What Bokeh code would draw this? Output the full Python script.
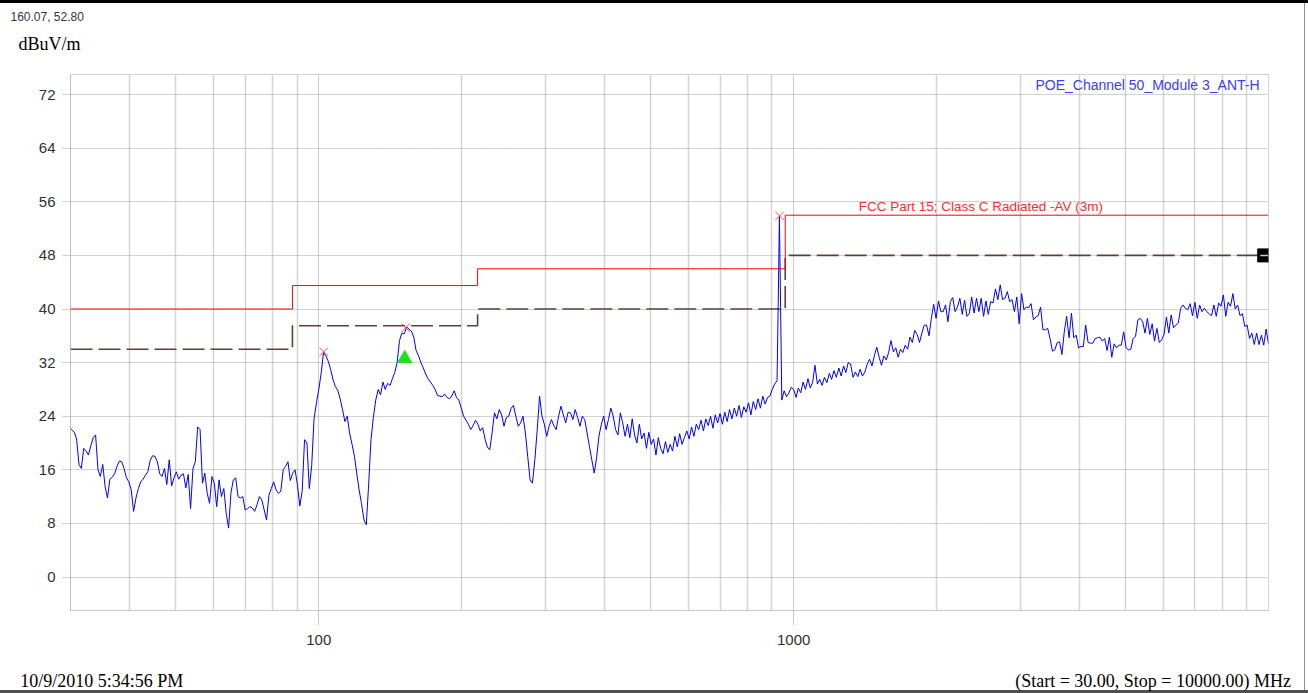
from bokeh.plotting import figure
from bokeh.models import Label, Title, FixedTicker, BasicTickFormatter, LogAxis
from bokeh.embed import file_html
from bokeh.resources import INLINE

# ---------------- data ----------------
freq_low = [30.0,
    30.2, 30.55, 30.9, 31.26, 31.62, 31.99, 32.36, 32.73, 33.11, 33.5,
    33.88, 34.28, 34.67, 35.08, 35.48, 35.89, 36.31, 36.73, 37.15, 37.58,
    38.02, 38.46, 38.9, 39.36, 39.81, 40.27, 40.74, 41.21, 41.69, 42.17,
    42.66, 43.15, 43.65, 44.16, 44.67, 45.19, 45.71, 46.24, 46.77, 47.32,
    47.86, 48.42, 48.98, 49.55, 50.12, 50.7, 51.29, 51.88, 52.48, 53.09,
    53.7, 54.33, 54.95, 55.59, 56.23, 56.89, 57.54, 58.21, 58.88, 59.57,
    60.26, 60.95, 61.66, 62.37, 63.1, 63.83, 64.57, 65.31, 66.07, 66.83,
    67.61, 68.39, 69.18, 69.98, 70.79, 71.61, 72.44, 73.28, 74.13, 74.99,
    75.86, 76.74, 77.62, 78.52, 79.43, 80.35, 81.28, 82.22, 83.18, 84.14,
    85.11, 86.1, 87.1, 88.1, 89.13, 90.16, 91.2, 92.26, 93.33, 94.41,
    95.5, 96.61, 97.72, 98.86]
level_low = [22.2,
    22.0, 21.6, 20.6, 16.8, 16.2, 19.2, 18.8, 18.2, 19.6, 20.8,
    21.2, 16.0, 15.0, 16.8, 13.5, 11.8, 14.6, 14.9, 15.4, 16.5,
    17.3, 17.2, 16.2, 14.8, 14.2, 13.0, 9.8, 11.8, 13.2, 14.2,
    14.6, 15.2, 15.7, 17.4, 18.1, 18.0, 17.2, 15.4, 15.0, 16.2,
    13.8, 17.5, 13.6, 14.8, 15.7, 14.6, 15.2, 15.4, 13.3, 15.3,
    10.2, 16.2, 17.2, 22.4, 22.0, 14.0, 15.5, 12.5, 11.0, 15.0,
    14.0, 10.5, 14.5, 12.0, 13.2, 9.5, 7.3, 12.5, 14.5, 14.8,
    12.0, 11.8, 12.0, 10.0, 10.2, 10.5, 10.3, 9.8, 10.8, 12.0,
    11.5, 10.0, 8.5, 12.2, 13.2, 14.2, 13.0, 12.5, 12.8, 16.0,
    16.5, 17.2, 14.4, 15.5, 16.0, 13.8, 10.6, 12.8, 20.5, 20.0,
    13.2, 16.6, 23.6, 26.0]

freq_mid = [
    100.0, 101.2, 102.3, 103.5, 104.7, 105.9, 107.2, 108.4, 109.6, 110.9,
    112.2, 113.5, 114.8, 116.1, 117.5, 118.9, 120.2, 121.6, 123.0, 124.5,
    125.9, 127.4, 128.8, 130.3, 131.8, 133.4, 134.9, 136.5, 138.0, 139.6,
    141.3, 142.9, 144.5, 146.2, 147.9, 149.6, 151.4, 153.1, 154.9, 156.7,
    158.5, 160.3, 162.2, 164.1, 166.0, 167.9, 169.8, 171.8, 173.8, 175.8,
    177.8, 179.9, 182.0, 184.1, 186.2, 188.4, 190.5, 192.8, 195.0, 197.2,
    199.5, 201.8, 204.2, 206.5, 208.9, 211.3, 213.8, 216.3, 218.8, 221.3,
    223.9, 226.5, 229.1, 231.7, 234.4, 237.1, 239.9, 242.7, 245.5, 248.3,
    251.2, 254.1, 257.0, 260.0, 263.0, 266.1, 269.2, 272.3, 275.4, 278.6,
    281.8, 285.1, 288.4, 291.7, 295.1, 298.5, 302.0, 305.5, 309.0, 312.6,
    316.2, 319.9, 323.6, 327.3, 331.1, 335.0, 338.8, 342.8, 346.7, 350.8,
    354.8, 358.9, 363.1, 367.3, 371.5, 375.8, 380.2, 384.6, 389.0, 393.6,
    398.1, 402.7, 407.4, 412.1, 416.9, 421.7, 426.6, 431.5, 436.5, 441.6,
    446.7, 451.9, 457.1, 462.4, 467.7, 473.2, 478.6, 484.2, 489.8, 495.5,
    501.2, 507.0, 512.9, 518.8, 524.8, 530.9, 537.0, 543.3, 549.5, 555.9,
    562.3, 568.9, 575.4, 582.1, 588.8, 595.7, 602.6, 609.5, 616.6, 623.7,
    631.0, 638.3, 645.7, 653.1, 660.7, 668.3, 676.1, 683.9, 691.8, 699.8,
    707.9, 716.1, 724.4, 732.8, 741.3, 749.9, 758.6, 767.4, 776.2, 785.2,
    794.3, 803.5, 812.8, 822.2, 831.8, 841.4, 851.1, 861.0, 871.0, 881.0,
    891.3, 901.6, 912.0, 922.6, 928.0, 933.3, 938.7, 944.1, 955.0, 966.1, 977.2, 988.6]
level_mid = [
    28.0, 30.5, 33.5, 33.0, 32.2, 31.0, 29.4, 28.4, 27.9, 26.6,
    25.0, 23.2, 24.0, 21.5, 19.8, 18.0, 15.5, 13.0, 11.0, 8.5,
    7.8, 14.0, 20.5, 23.8, 26.4, 28.0, 27.2, 29.1, 28.0, 28.9,
    28.6, 29.6, 30.5, 32.0, 35.3, 36.4, 36.3, 37.3, 37.0, 36.7,
    35.8, 33.8, 33.0, 32.0, 31.2, 30.3, 29.6, 29.1, 28.6, 28.0,
    27.1, 27.0, 26.9, 27.3, 26.8, 26.6, 27.0, 27.8, 26.8, 26.4,
    25.2, 24.0, 23.4, 22.8, 22.0, 22.6, 23.4, 22.8, 21.8, 22.3,
    20.6, 19.4, 19.0, 21.5, 24.5, 23.6, 25.0, 24.2, 22.5, 23.8,
    24.0, 25.2, 25.6, 24.0, 22.5, 23.0, 24.0, 21.5, 18.0, 14.5,
    14.0, 17.5, 22.0, 27.0, 24.0, 22.8, 21.0, 22.5, 23.5, 22.6,
    22.0, 24.0, 25.5, 24.2, 23.0, 24.6, 24.5, 23.5, 25.0, 23.8,
    22.5, 24.0, 23.5, 21.5, 19.5, 17.5, 15.5, 17.8, 21.0, 22.8,
    24.0, 22.0, 23.5, 25.2, 24.0, 22.0, 21.2, 24.5, 23.0, 21.0,
    22.8, 20.8, 23.6, 21.2, 20.0, 22.8, 20.6, 21.5, 19.2, 21.6,
    19.8, 20.6, 18.2, 20.8, 19.2, 18.4, 20.2, 18.6, 19.8, 18.8,
    21.0, 19.4, 21.4, 19.8, 20.8, 21.8, 20.6, 22.4, 21.0, 22.8,
    22.0, 23.4, 21.8, 23.6, 22.6, 24.0, 22.2, 24.2, 23.0, 24.4,
    22.8, 24.6, 23.2, 25.0, 23.6, 25.2, 24.0, 25.6, 23.8, 25.4,
    24.6, 26.0, 24.2, 26.2, 25.0, 26.6, 25.2, 27.0, 25.8, 26.8,
    27.0, 28.0, 28.8, 29.3, 41.0, 53.8, 40.2, 26.4, 27.8, 26.9, 27.5, 28.3]

freq_high = [
    1000, 1012, 1023, 1035, 1047, 1059, 1072, 1084, 1096, 1109,
    1122, 1135, 1148, 1161, 1175, 1189, 1202, 1216, 1230, 1245,
    1259, 1274, 1288, 1303, 1318, 1334, 1349, 1365, 1380, 1396,
    1413, 1429, 1445, 1462, 1479, 1496, 1514, 1531, 1549, 1567,
    1585, 1603, 1622, 1641, 1660, 1679, 1698, 1718, 1738, 1758,
    1778, 1799, 1820, 1841, 1862, 1884, 1905, 1928, 1950, 1972,
    1995, 2018, 2042, 2065, 2089, 2113, 2138, 2163, 2188, 2213,
    2239, 2265, 2291, 2317, 2344, 2371, 2399, 2427, 2455, 2483,
    2512, 2541, 2570, 2600, 2630, 2661, 2692, 2723, 2754, 2786,
    2818, 2851, 2884, 2917, 2951, 2985, 3020, 3055, 3090, 3126,
    3162, 3199, 3236, 3273, 3311, 3350, 3388, 3428, 3467, 3508,
    3548, 3589, 3631, 3673, 3715, 3758, 3802, 3846, 3890, 3936,
    3981, 4027, 4074, 4121, 4169, 4217, 4266, 4315, 4365, 4416,
    4467, 4519, 4571, 4624, 4677, 4732, 4786, 4842, 4898, 4955,
    5012, 5070, 5129, 5188, 5248, 5309, 5370, 5433, 5495, 5559,
    5623, 5689, 5754, 5821, 5888, 5957, 6026, 6095, 6166, 6237,
    6310, 6383, 6457, 6531, 6607, 6683, 6761, 6839, 6918, 6998,
    7079, 7161, 7244, 7328, 7413, 7499, 7586, 7674, 7762, 7852,
    7943, 8035, 8128, 8222, 8318, 8414, 8511, 8610, 8710, 8810,
    8913, 9016, 9120, 9226, 9333, 9441, 9550, 9661, 9772, 9886,
    10000]
level_high = [
    28.0, 26.8, 28.2, 27.5, 29.1, 28.0, 29.6, 28.2, 29.0, 31.6,
    28.8, 29.5, 28.6, 29.8, 29.0, 30.4, 29.5, 30.8, 29.8, 31.2,
    30.0, 31.5, 30.5, 32.0, 31.8, 29.8, 30.6, 29.9, 31.0, 30.0,
    30.6, 31.8, 32.5, 31.5, 33.0, 34.3, 32.8, 31.6, 33.0, 32.4,
    33.5, 35.3, 33.6, 34.2, 32.8, 34.0, 33.5, 34.6, 34.0, 35.8,
    35.0, 36.8, 36.2, 35.0, 36.4, 37.6, 37.6, 36.0, 38.6, 40.7,
    38.6, 41.2, 39.6, 39.6, 40.6, 38.1, 41.1, 41.7, 39.6, 40.3,
    41.6, 39.2, 41.3, 38.9, 39.3, 41.8, 39.4, 41.6, 39.6, 41.6,
    38.9, 41.2, 39.2, 41.1, 40.9, 43.0, 41.4, 43.6, 41.4, 41.6,
    42.6, 41.1, 41.4, 39.6, 41.8, 37.8, 42.3, 39.9, 40.3, 40.2,
    40.8, 38.4, 38.8, 39.0, 40.3, 36.9, 36.9, 37.1, 35.6, 33.7,
    33.9, 35.0, 35.1, 33.2, 36.6, 38.9, 35.7, 39.4, 35.7, 36.1,
    34.2, 34.4, 34.4, 37.6, 35.0, 34.9, 34.9, 35.6, 35.7, 35.8,
    35.2, 35.6, 33.8, 35.8, 32.8, 34.8, 34.2, 34.6, 34.6, 36.6,
    34.2, 33.9, 34.0, 35.6, 35.9, 38.4, 38.6, 38.1, 36.4, 38.6,
    36.2, 37.8, 35.2, 37.1, 35.0, 35.4, 36.2, 38.8, 36.4, 39.1,
    37.2, 37.6, 37.9, 40.1, 40.6, 40.1, 39.9, 40.8, 39.0, 41.0,
    38.6, 40.6, 39.6, 40.1, 39.6, 39.3, 39.0, 40.6, 38.9, 40.9,
    40.4, 42.1, 38.9, 41.0, 40.4, 42.3, 40.0, 40.6, 39.0, 39.3,
    37.4, 37.6, 35.6, 36.4, 34.7, 36.4, 34.7, 36.1, 34.6, 37.0,
    34.8]

# FCC Part 15 Class C average limit and the dashed margin line (step edges in MHz)
limit_edges = [30, 88, 216, 960, 10000]
limit_levels = [40, 43.5, 46, 54, 54]
margin_levels = [34, 37.5, 40, 48, 48]

peak_freq = [102.4, 152.4, 934]
peak_level = [33.6, 37.2, 53.9]
tri_freq = [151.7]
tri_level = [32.6]
end_freq = [9795]
end_level = [48.0]

x_major_ticks = [100, 1000]
x_minor_ticks = [40, 50, 60, 70, 80, 90, 200, 300, 400, 500, 600, 700, 800, 900,
                 2000, 3000, 4000, 5000, 6000, 7000, 8000, 9000]
y_ticks = [0, 8, 16, 24, 32, 40, 48, 56, 64, 72]

footer_left = "10/9/2010 5:34:56 PM"
footer_right = "(Start = 30.00, Stop = 10000.00) MHz"
footer_at = [34.93, 5713]          # centres of the two footer texts (MHz scale)

for a, b, n in ((freq_low, level_low, "low"), (freq_mid, level_mid, "mid"), (freq_high, level_high, "high")):
    if len(a) != len(b):
        raise ValueError(f"{n}: {len(a)} freqs vs {len(b)} levels")

freq = freq_low + freq_mid + freq_high
level = level_low + level_mid + level_high

# ---------------- figure ----------------
p = figure(width=1308, height=693, x_axis_type="log", x_range=(30, 10000), y_range=(-5, 75),
           output_backend="svg", toolbar_location=None,
           min_border_left=70, min_border_right=40, min_border_top=74, min_border_bottom=82)
p.background_fill_color = "white"
p.border_fill_color = None
p.outline_line_color = "#a8a8a8"
p.outline_line_dash = "1 1"
p.styles = {"box-shadow": "inset 0 3px 0 0 #000000, inset 0 -3px 0 0 #505050, "
                          "inset -3px 0 0 0 #ffffff, inset -4px 0 0 0 #909090"}

p.xaxis.ticker = FixedTicker(ticks=x_major_ticks, minor_ticks=x_minor_ticks)
p.xaxis.formatter = BasicTickFormatter(use_scientific=False)
p.yaxis.ticker = FixedTicker(ticks=y_ticks)

p.xgrid.grid_line_color = "#9a9a9a"
p.xgrid.grid_line_dash = "1 1"
p.xgrid.minor_grid_line_color = "#d4d4d4"
p.xgrid.minor_grid_line_width = 1.5
p.ygrid.grid_line_color = "#a4a4a4"
p.ygrid.grid_line_dash = "1 1"

p.xaxis.axis_line_color = "#c8c8c8"
p.xaxis.major_tick_out = 14
p.xaxis.major_tick_in = 0
p.xaxis.major_tick_line_color = "#909090"
p.xaxis.major_tick_line_dash = "1 1"
p.xaxis.minor_tick_out = 0
p.xaxis.minor_tick_in = 0
p.xaxis.major_label_standoff = 10
p.xaxis.major_label_text_font = "Liberation Sans"
p.xaxis.major_label_text_font_size = "15px"
p.xaxis.major_label_text_color = "#303030"

p.yaxis.axis_line_color = "#a4a4a4"
p.yaxis.axis_line_dash = "1 1"
p.yaxis.major_tick_out = 8
p.yaxis.major_tick_in = 0
p.yaxis.major_tick_line_color = "#a4a4a4"
p.yaxis.major_tick_line_dash = "1 1"
p.yaxis.minor_tick_out = 0
p.yaxis.minor_tick_in = 0
p.yaxis.major_label_standoff = 7
p.yaxis.major_label_text_font = "Liberation Sans"
p.yaxis.major_label_text_font_size = "15px"
p.yaxis.major_label_text_color = "#303030"

# footer line: a bare axis whose two labels carry the footer texts
footer = LogAxis(ticker=FixedTicker(ticks=footer_at),
                 major_label_overrides={footer_at[0]: footer_left, footer_at[1]: footer_right})
footer.axis_line_color = None
footer.major_tick_line_color = None
footer.minor_tick_line_color = None
footer.major_tick_out = 0
footer.major_tick_in = 0
footer.minor_tick_out = 0
footer.minor_tick_in = 0
footer.major_label_standoff = 23
footer.major_label_text_font = "Liberation Serif"
footer.major_label_text_font_size = "18px"
footer.major_label_text_color = "black"
p.add_layout(footer, "below")

# header texts (stacked upward from the plot frame: spacer, unit, cursor readout)
p.add_layout(Title(text=" ", align="left", standoff=5, vertical_align="top",
                   text_font="Liberation Sans", text_font_size="10px",
                   text_font_style="normal", text_color="white"), "above")
p.add_layout(Title(text="dBuV/m", align="left", offset=-52, standoff=2, vertical_align="top",
                   text_font="Liberation Serif", text_font_size="18px",
                   text_font_style="normal", text_color="black"), "above")
p.add_layout(Title(text="160.07, 52.80", align="left", offset=-60, standoff=14, vertical_align="top",
                   text_font="Liberation Sans", text_font_size="12px",
                   text_font_style="normal", text_color="#333344"), "above")

# ---------------- renderers ----------------
p.step(limit_edges, margin_levels, mode="after", line_color="#5c4040", line_width=1.6, line_dash="22 6")
p.step(limit_edges, limit_levels, mode="after", line_color="#ff0000", line_width=1)
p.line(freq, level, line_color="#0000ff", line_width=1)
p.scatter(peak_freq, peak_level, marker="x", size=12, line_color="#ff4848", line_width=1)
p.scatter(tri_freq, tri_level, marker="triangle", size=14, fill_color="#22dd22", line_color="#22dd22")
p.scatter(end_freq, end_level, marker="square", size=13, fill_color="black", line_color="black")
p.scatter(end_freq, end_level, marker="dash", size=8, line_color="#a8d8d8", line_width=1.5)

# ---------------- texts inside the plot ----------------
p.add_layout(Label(x=1371, y=55.35, text="FCC Part 15; Class C Radiated -AV (3m)",
                   text_font="Liberation Sans", text_font_size="13.5px", text_color="#ff2a2a",
                   text_baseline="middle"))
p.add_layout(Label(x=9575, y=73.5, text="POE_Channel 50_Module 3_ANT-H",
                   text_font="Liberation Sans", text_font_size="14px", text_color="#3c3cff",
                   text_align="right", text_baseline="middle"))

open("out.html", "w").write(file_html(p, INLINE))
